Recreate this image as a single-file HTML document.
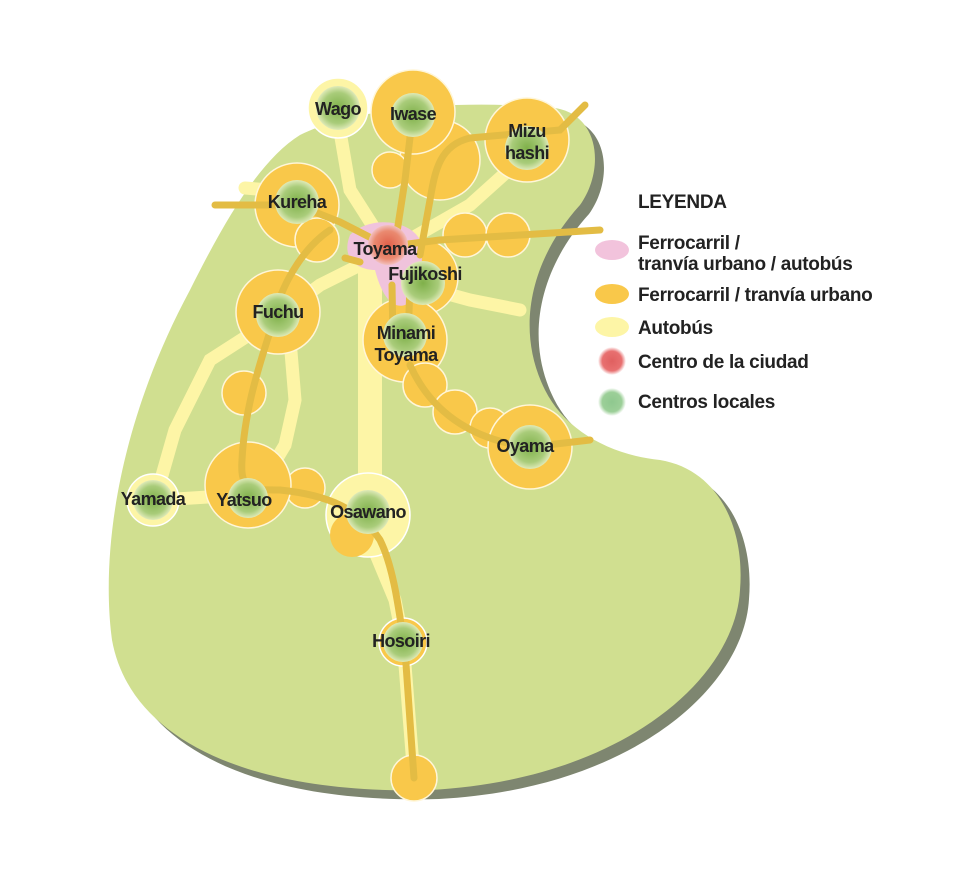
<!DOCTYPE html>
<html><head><meta charset="utf-8"><style>
html,body{margin:0;padding:0;background:#fff;}
svg{display:block}
text{font-family:"Liberation Sans Narrow","Liberation Sans",sans-serif;font-weight:bold;fill:#222;}
</style></head><body>
<svg width="960" height="887" viewBox="0 0 960 887" xmlns="http://www.w3.org/2000/svg">
<defs>
<radialGradient id="g"><stop offset="0" stop-color="#7fb04a"/><stop offset="0.7" stop-color="#a9cc7a"/><stop offset="1" stop-color="#dfeab8"/></radialGradient>
<radialGradient id="r"><stop offset="0" stop-color="#e0604a"/><stop offset="0.7" stop-color="#ea8a70"/><stop offset="1" stop-color="#f2c0c0"/></radialGradient>
<radialGradient id="lg"><stop offset="0" stop-color="#8fc88f"/><stop offset="0.7" stop-color="#9ccf98"/><stop offset="1" stop-color="#fff"/></radialGradient>
<radialGradient id="lr"><stop offset="0" stop-color="#e06060"/><stop offset="0.7" stop-color="#e87070"/><stop offset="1" stop-color="#fff"/></radialGradient>
</defs>
<path transform="translate(9,9)" fill="#7e8670" d="M 300 135 C 360 105, 470 100, 555 108 C 600 115, 605 170, 580 205 C 530 260, 515 330, 545 390 C 565 430, 610 455, 660 460 C 720 470, 745 530, 740 590 C 735 680, 620 780, 430 790 C 250 795, 130 740, 112 640 C 100 550, 120 420, 190 290 C 225 220, 260 160, 300 135 Z"/>
<path fill="#d0df90" d="M 300 135 C 360 105, 470 100, 555 108 C 600 115, 605 170, 580 205 C 530 260, 515 330, 545 390 C 565 430, 610 455, 660 460 C 720 470, 745 530, 740 590 C 735 680, 620 780, 430 790 C 250 795, 130 740, 112 640 C 100 550, 120 420, 190 290 C 225 220, 260 160, 300 135 Z"/>
<g stroke="#fdf5a6" stroke-width="13" fill="none" stroke-linecap="round">
<path d="M338 120 L350 190 L385 245"/>
<path d="M400 245 L470 205 L520 160"/>
<path d="M380 255 L320 285 L280 315 L210 360 L175 430 L155 500"/>
<path d="M245 188 L270 190"/>
<path d="M415 285 L470 300 L520 310"/>
<path d="M290 340 L295 400 L285 445 L270 470"/>
<path d="M160 500 L240 495"/>
<path d="M370 540 L395 600 L403 640 L414 778"/>
</g>
<path d="M370 250 L370 520" stroke="#fdf5a6" stroke-width="24" fill="none"/>
<g fill="#f9c84a" stroke="#fff6d8" stroke-width="1.5">
<circle cx="440" cy="160" r="40"/>
<circle cx="413" cy="112" r="42"/>
<circle cx="390" cy="170" r="18"/>
<circle cx="527" cy="140" r="42"/>
<circle cx="297" cy="205" r="42"/>
<circle cx="317" cy="240" r="22"/>
<circle cx="465" cy="235" r="22"/>
<circle cx="508" cy="235" r="22"/>
<circle cx="420" cy="277" r="38"/>
<circle cx="278" cy="312" r="42"/>
<circle cx="405" cy="340" r="42"/>
<circle cx="425" cy="385" r="22"/>
<circle cx="455" cy="412" r="22"/>
<circle cx="490" cy="428" r="20"/>
<circle cx="530" cy="447" r="42"/>
<circle cx="244" cy="393" r="22"/>
<circle cx="305" cy="488" r="20"/>
<circle cx="248" cy="485" r="43"/>
<circle cx="414" cy="778" r="23"/>
</g>
<circle cx="368" cy="515" r="42" fill="#fdf5a6" stroke="#fff" stroke-width="1.5"/>
<circle cx="352" cy="535" r="22" fill="#f9c84a"/>
<circle cx="338" cy="108" r="30" fill="#fdf5a6" stroke="#fff" stroke-width="1.5"/>
<circle cx="153" cy="500" r="26" fill="#fdf5a6" stroke="#fff" stroke-width="1.5"/>
<circle cx="403" cy="642" r="24" fill="#f9c84a" stroke="#fff" stroke-width="1.5"/>
<path fill="#f0c3dc" d="M350 235 C370 215, 410 220, 420 240 C425 260, 420 300, 405 305 C390 310, 380 290, 375 270 C360 270, 340 260, 350 235 Z"/>
<g stroke="#e3bc44" stroke-width="7" fill="none" stroke-linecap="round">
<path d="M215 205 L297 205 L340 222 L385 245"/>
<path d="M413 112 L405 180 L395 245"/>
<path d="M585 105 L560 130 L470 138 C440 145, 435 170, 430 200 L420 255"/>
<path d="M400 245 L440 240 L600 230"/>
<path d="M345 258 L360 262"/>
<path d="M330 230 C300 250, 280 290, 275 315 C265 350, 245 400, 242 460 C240 490, 250 490, 280 490 C330 495, 360 510, 380 540 C395 570, 400 620, 405 650 L414 778"/>
<path d="M392 285 L393 340"/>
<path d="M410 285 L408 340"/>
<path d="M410 365 C430 410, 470 440, 530 447 L590 440"/>
</g>
<g fill="url(#g)">
<circle cx="338" cy="108" r="22"/><circle cx="413" cy="115" r="22"/><circle cx="527" cy="148" r="22"/>
<circle cx="297" cy="202" r="22"/><circle cx="423" cy="283" r="22"/><circle cx="278" cy="315" r="22"/>
<circle cx="405" cy="335" r="22"/><circle cx="530" cy="447" r="22"/><circle cx="248" cy="498" r="20"/>
<circle cx="153" cy="500" r="20"/><circle cx="368" cy="512" r="22"/><circle cx="403" cy="642" r="20"/>
</g>
<circle cx="388" cy="245" r="20" fill="url(#r)"/>
<g font-size="18" text-anchor="middle" letter-spacing="-0.6">
<text x="338" y="115">Wago</text>
<text x="413" y="120">Iwase</text>
<text x="527" y="137">Mizu</text><text x="527" y="159">hashi</text>
<text x="297" y="208">Kureha</text>
<text x="385" y="255">Toyama</text>
<text x="425" y="280">Fujikoshi</text>
<text x="278" y="318">Fuchu</text>
<text x="406" y="339">Minami</text><text x="406" y="361">Toyama</text>
<text x="525" y="452">Oyama</text>
<text x="153" y="505">Yamada</text>
<text x="244" y="506">Yatsuo</text>
<text x="368" y="518">Osawano</text>
<text x="401" y="647">Hosoiri</text>
</g>
<ellipse cx="612" cy="250" rx="17" ry="10" fill="#f2c3dc"/>
<ellipse cx="612" cy="294" rx="17" ry="10" fill="#f9c84a"/>
<ellipse cx="612" cy="327" rx="17" ry="10" fill="#fdf5a6"/>
<circle cx="612" cy="361" r="14" fill="url(#lr)"/>
<circle cx="612" cy="402" r="14" fill="url(#lg)"/>
<g font-size="19" letter-spacing="-0.3">
<text x="638" y="208">LEYENDA</text>
<text x="638" y="249">Ferrocarril /</text>
<text x="638" y="270">tranvía urbano / autobús</text>
<text x="638" y="301">Ferrocarril / tranvía urbano</text>
<text x="638" y="334">Autobús</text>
<text x="638" y="368">Centro de la ciudad</text>
<text x="638" y="408">Centros locales</text>
</g>
</svg>
</body></html>
